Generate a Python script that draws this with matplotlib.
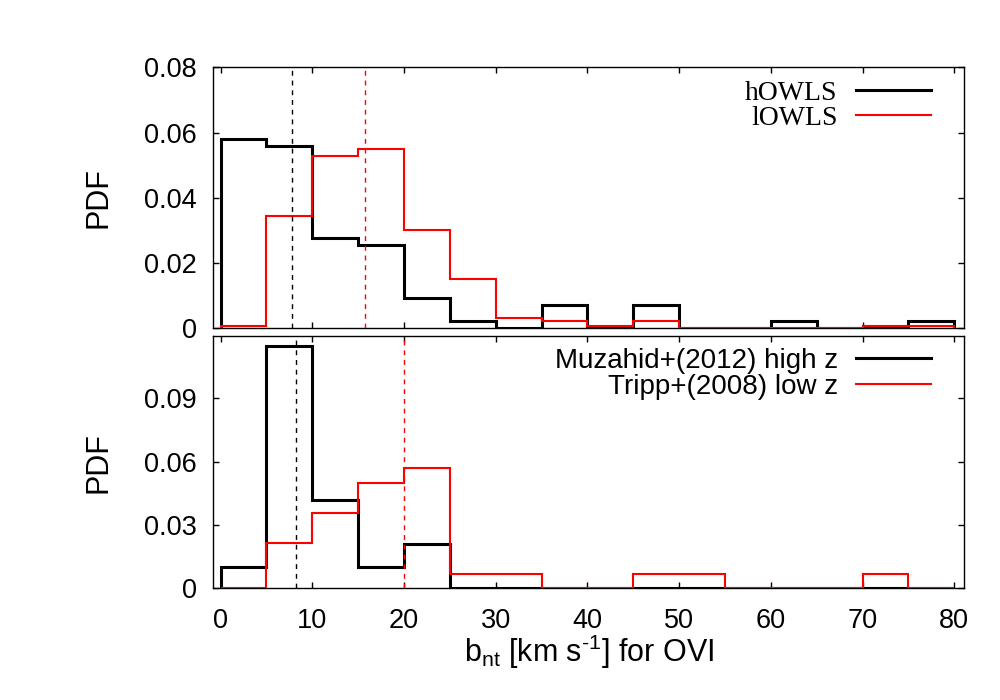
import numpy as np
import matplotlib
matplotlib.use('Agg')
import matplotlib.pyplot as plt

plt.rcParams['font.family'] = ['Liberation Sans', 'DejaVu Sans']
plt.rcParams['mathtext.fontset'] = 'custom'
plt.rcParams['mathtext.rm'] = 'Liberation Sans'
plt.rcParams['mathtext.it'] = 'Liberation Sans:italic'
plt.rcParams['mathtext.bf'] = 'Liberation Sans:bold'

# ----------------- DATA -----------------
bin_edges = np.arange(0, 85, 5)

# top panel: simulations
howls = [0.0580, 0.0558, 0.0278, 0.0256, 0.0093, 0.0022, 0.0, 0.0070,
         0.0, 0.0070, 0.0, 0.0, 0.0022, 0.0, 0.0, 0.0022]
lowls = [0.0008, 0.0345, 0.0528, 0.0551, 0.0301, 0.0151, 0.0032, 0.0021,
         0.0008, 0.0021, 0.0, 0.0, 0.0, 0.0, 0.0008, 0.0008]
howls_median = 7.8
lowls_median = 15.7

# bottom panel: observations
muzahid = [0.0102, 0.1150, 0.0418, 0.0102, 0.0208, 0.0, 0.0, 0.0,
           0.0, 0.0, 0.0, 0.0, 0.0, 0.0, 0.0, 0.0]
tripp = [0.0, 0.0213, 0.0356, 0.0497, 0.0570, 0.0070, 0.0070, 0.0,
         0.0, 0.0070, 0.0070, 0.0, 0.0, 0.0, 0.0070, 0.0]
muzahid_median = 8.2
tripp_median = 20.0

top_yticks = [0, 0.02, 0.04, 0.06, 0.08]
bot_yticks = [0, 0.03, 0.06, 0.09]
xticks = np.arange(0, 90, 10)

# ----------------- PLOT -----------------
fig = plt.figure(figsize=(10, 7), dpi=100, facecolor='white')
ax1 = fig.add_axes([0.2133, 0.531, 0.751, 0.3729])
ax2 = fig.add_axes([0.2133, 0.1596, 0.751, 0.3604])


def style_axis(ax):
    for sp in ax.spines.values():
        sp.set_color('black')
        sp.set_linewidth(1.0)
    ax.tick_params(direction='in', top=True, right=True, length=4, width=1,
                   labelsize=19.5, colors='black')
    ax.tick_params(axis='y', pad=12)
    ax.tick_params(axis='x', pad=14)
    ax.set_xlim(-0.8, 81.1)
    ax.set_xticks(xticks)


# top panel
ax1.stairs(howls, bin_edges, baseline=0, color='black', linewidth=2.2, label='hOWLS', zorder=2)
ax1.stairs(lowls, bin_edges, baseline=0, color='red', linewidth=1.5, label='lOWLS', zorder=3)
ax1.axvline(howls_median, color='black', linestyle=(0, (3.5, 3.5)), linewidth=1.0, zorder=4)
ax1.axvline(lowls_median, color='red', linestyle=(0, (3.5, 3.5)), linewidth=1.0, zorder=4)
style_axis(ax1)
ax1.set_ylim(0, 0.08)
ax1.set_yticks(top_yticks)
ax1.set_yticklabels(['0', '0.02', '0.04', '0.06', '0.08'])
ax1.tick_params(labelbottom=False)
ax1.set_ylabel('PDF', fontsize=22, labelpad=22)
ax1.legend(loc='upper right', bbox_to_anchor=(0.955, 0.95), markerfirst=False, frameon=False,
           prop={'family': 'Liberation Serif', 'size': 20},
           handlelength=2.67, handletextpad=0.67, borderpad=0,
           borderaxespad=0, labelspacing=0.0)

# bottom panel
ax2.stairs(muzahid, bin_edges, baseline=0, color='black', linewidth=2.2,
           label='Muzahid+(2012) high z', zorder=2)
ax2.stairs(tripp, bin_edges, baseline=0, color='red', linewidth=1.5,
           label='Tripp+(2008) low z', zorder=3)
ax2.axvline(muzahid_median, color='black', linestyle=(0, (3.5, 3.5)), linewidth=1.0, zorder=4)
ax2.axvline(tripp_median, color='red', linestyle=(0, (3.5, 3.5)), linewidth=1.0, zorder=4)
style_axis(ax2)
ax2.set_ylim(0, 0.1195)
ax2.set_yticks(bot_yticks)
ax2.set_yticklabels(['0', '0.03', '0.06', '0.09'])
ax2.set_ylabel('PDF', fontsize=22, labelpad=22)
ax2.set_xlabel(r'b$_{\rm nt}$ [km s$^{\text{-}1}$] for OVI', fontsize=22, labelpad=-1)
ax2.legend(loc='upper right', bbox_to_anchor=(0.955, 0.952), markerfirst=False, frameon=False,
           prop={'family': 'Liberation Sans', 'size': 20},
           handlelength=2.67, handletextpad=0.67, borderpad=0,
           borderaxespad=0, labelspacing=0.0)

fig.savefig('out.png', dpi=100, facecolor='white')
